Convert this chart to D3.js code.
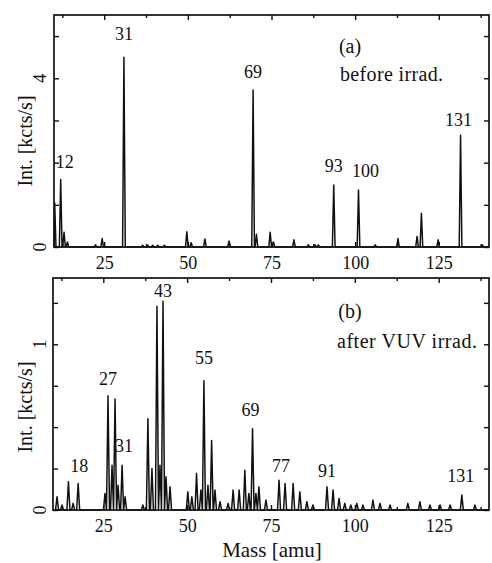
<!DOCTYPE html>
<html>
<head>
<meta charset="utf-8">
<script src="https://cdn.jsdelivr.net/npm/d3@7"></script>
<style>
  body { margin: 0; background: #fff; }
  svg { display: block; }
  text { font-family: "Liberation Serif", "DejaVu Serif", serif; fill: #111; }
</style>
</head>
<body>
<div id="chart"></div>
<script>
// Mass spectra, (a) before and (b) after VUV irradiation
// peak positions [amu] and heights [kcts/s]

const massBefore = [10.2, 12.0, 13.0, 14.0, 22.4, 24.4, 30.9, 36.5, 38, 39.5, 41, 43,
    49.7, 51, 55.1, 62.3, 69.5, 70.5, 74.6, 75.6, 81.7, 86, 88, 89,
    93.6, 101, 106, 112.8, 118.5, 119.8, 124.8, 131.5, 138];
const intBefore = [1.05, 1.6, 0.35, 0.12, 0.05, 0.2, 4.5, 0.04, 0.04, 0.04, 0.04, 0.04,
    0.36, 0.1, 0.19, 0.14, 3.72, 0.3, 0.35, 0.12, 0.17, 0.05, 0.05, 0.05,
    1.47, 1.35, 0.05, 0.2, 0.25, 0.8, 0.17, 2.65, 0.05];

const massAfter = [11.2, 12.7, 14.6, 16, 17.5, 25.5, 26.4, 27.6, 28.5, 29.4, 30.6, 31.5,
    36.8, 38.3, 39.5, 41, 41.9, 42.8, 43.7, 44.9, 50.2, 51.4, 52.8, 54.1, 55, 56.2,
    57.3, 58.3, 59.8, 62.2, 63.7, 65.5, 67.2, 68.4, 69.5, 70.5, 71.4, 73.5, 77.4,
    79.2, 81.6, 83.6, 85.7, 87.5, 91.7, 93.5, 95.3, 97, 98.8, 100.6, 102.4, 105.4,
    107.5, 110.5, 115.8, 119.4, 122.4, 125.4, 128.4, 131.9, 135.8];
const intAfter = [0.08, 0.03, 0.17, 0.04, 0.16, 0.1, 0.69, 0.27, 0.67, 0.15, 0.27, 0.08,
    0.03, 0.55, 0.25, 1.23, 0.27, 1.26, 0.2, 0.14, 0.11, 0.08, 0.22, 0.12, 0.78, 0.15,
    0.42, 0.12, 0.05, 0.04, 0.12, 0.12, 0.24, 0.1, 0.49, 0.1, 0.14, 0.06, 0.18,
    0.16, 0.16, 0.11, 0.05, 0.03, 0.14, 0.12, 0.07, 0.04, 0.03, 0.04, 0.03, 0.06,
    0.04, 0.03, 0.04, 0.05, 0.03, 0.03, 0.03, 0.09, 0.03];

const xMajor = [25, 50, 75, 100, 125];
const xMinor = [12.5, 37.5, 62.5, 87.5, 112.5, 137.5];
const yTicksA = [0, 1, 2, 3, 4, 5];
const yLabelsA = [0, 4];
const yTicksB = [0, 0.25, 0.5, 0.75, 1, 1.25];
const yLabelsB = [0, 1];

const peakLabelsA = [
    {text: "12", m: 12, v: 1.6},
    {text: "31", m: 30.9, v: 4.5},
    {text: "69", m: 69.5, v: 3.72},
    {text: "93", m: 93.6, v: 1.47},
    {text: "100", m: 101, v: 1.35},
    {text: "131", m: 131.5, v: 2.65}
];
const peakLabelsB = [
    {text: "18", m: 17.5, v: 0.16},
    {text: "27", m: 26.4, v: 0.69},
    {text: "31", m: 30.6, v: 0.27},
    {text: "43", m: 42.8, v: 1.26},
    {text: "55", m: 55, v: 0.78},
    {text: "69", m: 69.5, v: 0.49},
    {text: "77", m: 77.4, v: 0.18},
    {text: "91", m: 91.7, v: 0.14},
    {text: "131", m: 131.9, v: 0.09}
];

const W = 492, H = 563;
const svg = d3.select("#chart").append("svg")
    .attr("width", W)
    .attr("height", H);

function drawPanel(opt) {
    const x = d3.scaleLinear().domain([10, 140]).range([opt.left, 489]);
    const y = d3.scaleLinear().domain([0, opt.yMax]).range([opt.bottom, opt.top]);
    const g = svg.append("g");

    // spectrum: each peak is a narrow spike on the baseline
    const pts = [[10, 0]];
    opt.mass.forEach((m, i) => {
        pts.push([m - opt.w, 0], [m, opt.vals[i]], [m + opt.w, 0]);
    });
    pts.push([140, 0]);
    pts.sort((a, b) => a[0] - b[0]);

    const line = d3.line()
        .x(d => x(Math.max(10, Math.min(140, d[0]))))
        .y(d => y(d[1]));

    g.append("path")
        .datum(pts)
        .attr("fill", "none")
        .attr("stroke", "#111")
        .attr("stroke-width", opt.sw)
        .attr("stroke-linejoin", "round")
        .attr("d", line);

    // frame
    g.append("rect")
        .attr("x", x.range()[0])
        .attr("y", opt.top)
        .attr("width", x.range()[1] - x.range()[0])
        .attr("height", opt.bottom - opt.top)
        .attr("fill", "none")
        .attr("stroke", "#111")
        .attr("stroke-width", 1.7);

    // x axis bottom (ticks inward)
    const xb = g.append("g")
        .attr("transform", `translate(0,${opt.bottom})`)
        .call(d3.axisBottom(x).tickValues(xMajor).tickSize(-5).tickPadding(9).tickFormat(d3.format("d")));
    g.append("g")
        .attr("transform", `translate(0,${opt.bottom})`)
        .call(d3.axisBottom(x).tickValues(xMinor).tickSize(-3).tickFormat(""));
    g.append("g")
        .attr("transform", `translate(0,${opt.top})`)
        .call(d3.axisTop(x).tickValues(xMajor).tickSize(-5).tickFormat(""));
    g.append("g")
        .attr("transform", `translate(0,${opt.top})`)
        .call(d3.axisTop(x).tickValues(xMinor).tickSize(-3).tickFormat(""));

    // y axis ticks left and right
    g.append("g")
        .attr("transform", `translate(${x.range()[0]},0)`)
        .call(d3.axisLeft(y).tickValues(opt.yTicks).tickSize(-5).tickFormat(""));
    g.append("g")
        .attr("transform", `translate(${x.range()[1]},0)`)
        .call(d3.axisRight(y).tickValues(opt.yTicks).tickSize(-5).tickFormat(""));

    g.selectAll(".domain").remove();
    g.selectAll(".tick line").attr("stroke", "#111").attr("stroke-width", 1.4);
    xb.selectAll("text")
        .style("font-family", '"Liberation Serif", serif')
        .style("font-size", "18px")
        .attr("fill", "#111");

    // rotated y tick labels
    g.selectAll(".ylab")
        .data(opt.yLabels)
        .enter()
        .append("text")
        .attr("class", "ylab")
        .attr("transform", d => `translate(46,${y(d)}) rotate(-90)`)
        .attr("text-anchor", "middle")
        .style("font-size", "18px")
        .text(d => d);

    // y axis title
    g.append("text")
        .attr("transform", `translate(32,${opt.titleY}) rotate(-90)`)
        .attr("text-anchor", "middle")
        .style("font-size", "20px")
        .text("Int. [kcts/s]");

    // peak labels
    g.selectAll(".plab")
        .data(opt.labels)
        .enter()
        .append("text")
        .attr("class", "plab")
        .attr("x", d => x(d.m) + (opt.dx[d.text] || 0))
        .attr("y", d => y(d.v) - (opt.gap[d.text] || 12))
        .attr("text-anchor", "middle")
        .style("font-size", "18px")
        .text(d => d.text);

    g.append("text")
        .attr("x", 350)
        .attr("y", opt.tagY)
        .attr("text-anchor", "middle")
        .style("font-size", "20px")
        .text(opt.tag);
    g.append("text")
        .attr("x", opt.noteX)
        .attr("y", opt.noteY)
        .attr("textLength", opt.noteLen)
        .style("font-size", "20px")
        .text(opt.note);

    return x;
}

drawPanel({
    mass: massBefore, vals: intBefore, w: 0.4, sw: 1.5,
    left: 54, top: 15, bottom: 247, yMax: 5.5,
    yTicks: yTicksA, yLabels: yLabelsA, titleY: 141,
    labels: peakLabelsA,
    dx: {"12": 4, "100": 7, "131": -2},
    gap: {"12": 12, "31": 17, "69": 12, "93": 13, "100": 13, "131": 9},
    tag: "(a)", tagY: 53, note: "before irrad.", noteX: 340, noteY: 81, noteLen: 103
});

drawPanel({
    mass: massAfter, vals: intAfter, w: 0.45, sw: 1.5,
    left: 53, top: 278, bottom: 510, yMax: 1.4,
    yTicks: yTicksB, yLabels: yLabelsB, titleY: 407,
    labels: peakLabelsB,
    dx: {"18": 1, "31": 2, "43": 0, "69": -2, "77": 2, "91": 0, "131": -1},
    gap: {"18": 11, "27": 11, "31": 13, "43": 4, "55": 17, "69": 13, "77": 8, "91": 10, "131": 13},
    tag: "(b)", tagY: 318, note: "after VUV irrad.", noteX: 337, noteY: 348, noteLen: 140
});

svg.append("text")
    .attr("x", 272)
    .attr("y", 557)
    .attr("text-anchor", "middle")
    .style("font-size", "21px")
    .text("Mass [amu]");
</script>
</body>
</html>
